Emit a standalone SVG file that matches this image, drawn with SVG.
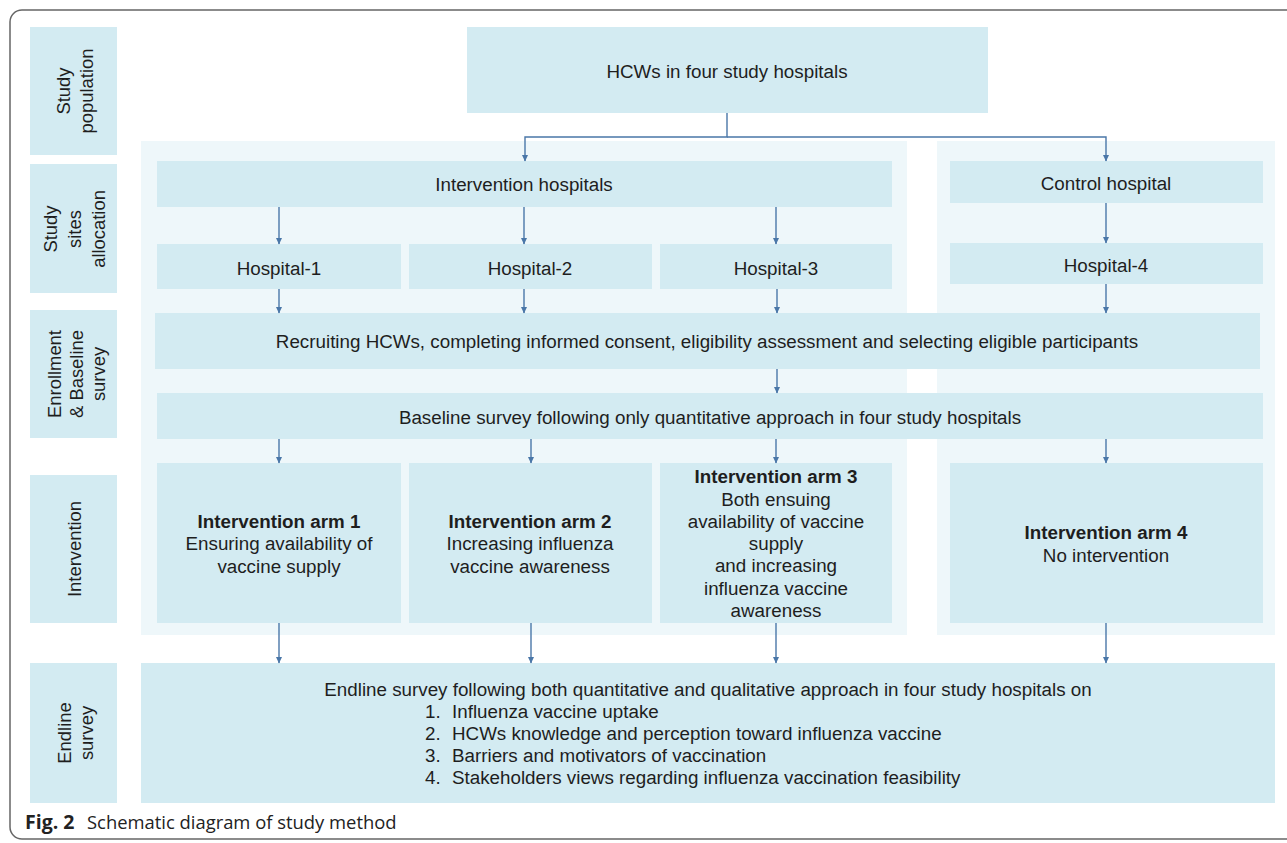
<svg xmlns="http://www.w3.org/2000/svg" width="1287" height="843" viewBox="0 0 1287 843">
<defs>
<marker id="ah" markerWidth="7" markerHeight="7" refX="6" refY="3.5" orient="auto" markerUnits="userSpaceOnUse">
<path d="M0,0.5 L6.5,3.5 L0,6.5 z" fill="#4a77a8"/>
</marker>
<style>
.box{fill:#d3ebf2}
.panel{fill:#eef7fa}
.t{font-family:"Liberation Sans",Arial,sans-serif;font-size:18.8px;fill:#1e1e1e;text-anchor:middle}
.v{font-size:18.4px}
.b{font-weight:bold}
.l{text-anchor:start}
.cn{stroke:#4a77a8;stroke-width:1.4;fill:none;marker-end:url(#ah)}
.cap{font-family:"Open Sans","Liberation Sans",sans-serif;font-size:18.4px;fill:#222}
</style>
</defs>
<rect x="10" y="10" width="1300" height="829" rx="12" fill="#fff" stroke="#666" stroke-width="1.5"/>
<g id="panels">
<rect class="panel" x="141" y="141" width="766" height="494"/>
<rect class="panel" x="937" y="141" width="338" height="494"/>
</g>
<g id="lbl-population"><rect class="box" x="30" y="27" width="87" height="128"/>
<text class="t v" transform="translate(0,91) rotate(-90)"><tspan x="0" y="70">Study</tspan><tspan x="0" y="93">population</tspan></text></g>
<g id="lbl-allocation"><rect class="box" x="30" y="164" width="87" height="129"/>
<text class="t v" transform="translate(0,229) rotate(-90)"><tspan x="0" y="57">Study</tspan><tspan x="0" y="81">sites</tspan><tspan x="0" y="105">allocation</tspan></text></g>
<g id="lbl-enrollment"><rect class="box" x="30" y="310" width="87" height="128"/>
<text class="t v" transform="translate(0,374) rotate(-90)"><tspan x="0" y="61">Enrollment</tspan><tspan x="0" y="83">&amp; Baseline</tspan><tspan x="0" y="105">survey</tspan></text></g>
<g id="lbl-intervention"><rect class="box" x="30" y="475" width="87" height="148"/>
<text class="t v" transform="translate(0,549) rotate(-90)"><tspan x="0" y="81">Intervention</tspan></text></g>
<g id="lbl-endline"><rect class="box" x="30" y="663" width="87" height="140"/>
<text class="t v" transform="translate(0,733) rotate(-90)"><tspan x="0" y="71">Endline</tspan><tspan x="0" y="93">survey</tspan></text></g>
<g id="n-hcws"><rect class="box" x="467" y="27" width="521" height="86"/><text class="t" x="727" y="78">HCWs in four study hospitals</text></g>
<g id="n-interv-hosp"><rect class="box" x="157" y="161" width="735" height="46"/><text class="t" x="524" y="191">Intervention hospitals</text></g>
<g id="n-control-hosp"><rect class="box" x="950" y="161" width="313" height="42"/><text class="t" x="1106" y="190">Control hospital</text></g>
<g id="n-h1"><rect class="box" x="157" y="244" width="244" height="45"/><text class="t" x="279" y="275">Hospital-1</text></g>
<g id="n-h2"><rect class="box" x="409" y="244" width="243" height="45"/><text class="t" x="530" y="275">Hospital-2</text></g>
<g id="n-h3"><rect class="box" x="660" y="244" width="232" height="45"/><text class="t" x="776" y="275">Hospital-3</text></g>
<g id="n-h4"><rect class="box" x="950" y="243" width="313" height="41"/><text class="t" x="1106" y="272">Hospital-4</text></g>
<g id="n-recruit"><rect class="box" x="155" y="313" width="1105" height="56"/><text class="t" x="707" y="348">Recruiting HCWs, completing informed consent, eligibility assessment and selecting eligible participants</text></g>
<g id="n-baseline"><rect class="box" x="157" y="393" width="1106" height="46"/><text class="t" x="710" y="424">Baseline survey following only quantitative approach in four study hospitals</text></g>
<g id="n-arm1"><rect class="box" x="157" y="463" width="244" height="160"/>
<text class="t" x="279" y="528"><tspan class="b">Intervention arm 1</tspan><tspan x="279" y="550">Ensuring availability of</tspan><tspan x="279" y="573">vaccine supply</tspan></text></g>
<g id="n-arm2"><rect class="box" x="409" y="463" width="243" height="160"/>
<text class="t" x="530" y="528"><tspan class="b">Intervention arm 2</tspan><tspan x="530" y="550">Increasing influenza</tspan><tspan x="530" y="573">vaccine awareness</tspan></text></g>
<g id="n-arm3"><rect class="box" x="660" y="463" width="232" height="160"/>
<text class="t" x="776" y="483"><tspan class="b">Intervention arm 3</tspan><tspan x="776" y="506">Both ensuing</tspan><tspan x="776" y="528">availability of vaccine</tspan><tspan x="776" y="550">supply</tspan><tspan x="776" y="572">and increasing</tspan><tspan x="776" y="595">influenza vaccine</tspan><tspan x="776" y="617">awareness</tspan></text></g>
<g id="n-arm4"><rect class="box" x="950" y="463" width="313" height="160"/>
<text class="t" x="1106" y="539"><tspan class="b">Intervention arm 4</tspan><tspan x="1106" y="562">No intervention</tspan></text></g>
<g id="n-endline"><rect class="box" x="141" y="663" width="1134" height="140"/>
<text class="t" x="708" y="696">Endline survey following both quantitative and qualitative approach in four study hospitals on</text>
<text class="t l" x="425" y="718">1.</text><text class="t l" x="452" y="718">Influenza vaccine uptake</text>
<text class="t l" x="425" y="740">2.</text><text class="t l" x="452" y="740">HCWs knowledge and perception toward influenza vaccine</text>
<text class="t l" x="425" y="762">3.</text><text class="t l" x="452" y="762">Barriers and motivators of vaccination</text>
<text class="t l" x="425" y="784">4.</text><text class="t l" x="452" y="784">Stakeholders views regarding influenza vaccination feasibility</text>
</g>
<g id="connectors">
<path class="cn" d="M727,113 V137 H525 V161"/>
<path class="cn" d="M727,137 H1106 V161"/>
<path class="cn" d="M279,207 V244"/>
<path class="cn" d="M524,207 V244"/>
<path class="cn" d="M776,207 V244"/>
<path class="cn" d="M1106,203 V243"/>
<path class="cn" d="M279,289 V313"/>
<path class="cn" d="M524,289 V313"/>
<path class="cn" d="M777,289 V313"/>
<path class="cn" d="M1106,284 V313"/>
<path class="cn" d="M777,369 V393"/>
<path class="cn" d="M279,439 V463"/>
<path class="cn" d="M531,439 V463"/>
<path class="cn" d="M776,439 V463"/>
<path class="cn" d="M1106,439 V463"/>
<path class="cn" d="M279,623 V663"/>
<path class="cn" d="M531,623 V663"/>
<path class="cn" d="M776,623 V663"/>
<path class="cn" d="M1106,623 V663"/>
</g>
<text class="cap" x="25" y="829"><tspan font-weight="bold" font-size="19.5px">Fig. 2</tspan><tspan x="87">Schematic diagram of study method</tspan></text>
</svg>
